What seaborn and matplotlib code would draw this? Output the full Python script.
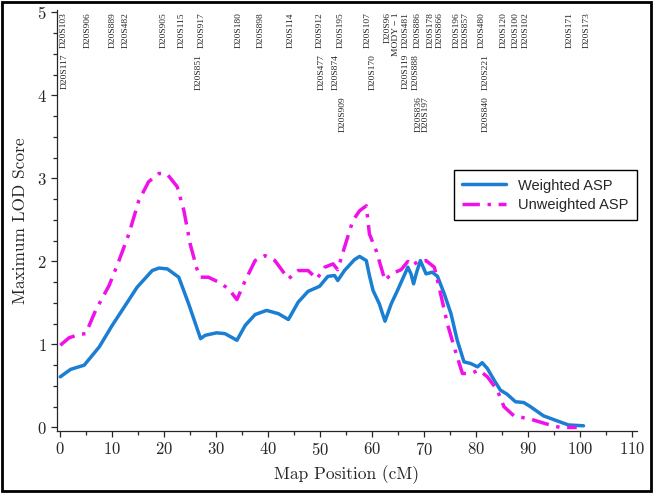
import numpy as np
import pandas as pd
import matplotlib
matplotlib.use("Agg")
import matplotlib.pyplot as plt
from matplotlib.ticker import MultipleLocator
import seaborn as sns

# weighted ASP curve (cM, max LOD)
pos_weighted = [0, 2.0, 4.6, 7.5, 10.0, 12.3, 14.8, 17.7, 19.0, 20.6, 22.8, 24.7,
                27.0, 27.9, 30.1, 31.7, 34.0, 35.6, 37.5, 39.7, 42.0, 43.9, 45.8,
                47.7, 49.9, 51.5, 52.8, 53.4, 54.7, 56.6, 57.6, 58.9, 59.5, 60.2,
                61.4, 62.5, 63.7, 64.9, 66.9, 67.5, 68.0, 68.5, 69.3, 70.4, 71.6,
                72.6, 73.9, 75.2, 76.4, 77.7, 79.0, 80.3, 81.2, 82.2, 83.5, 84.7,
                86.0, 87.6, 89.2, 90.5, 93.0, 95.6, 97.8, 100.7]
lod_weighted = [0.61, 0.70, 0.75, 0.97, 1.23, 1.45, 1.69, 1.89, 1.92, 1.91, 1.81, 1.49,
                1.07, 1.11, 1.14, 1.13, 1.05, 1.23, 1.36, 1.41, 1.37, 1.30, 1.51,
                1.64, 1.70, 1.82, 1.83, 1.77, 1.89, 2.02, 2.06, 2.01, 1.83, 1.65,
                1.49, 1.28, 1.49, 1.65, 1.93, 1.85, 1.73, 1.85, 2.01, 1.85, 1.87,
                1.82, 1.61, 1.37, 1.05, 0.79, 0.77, 0.73, 0.78, 0.71, 0.57, 0.45,
                0.40, 0.31, 0.30, 0.25, 0.14, 0.08, 0.03, 0.02]

# unweighted ASP curve
pos_unweighted = [0, 1.7, 3.6, 4.9, 6.8, 9.4, 11.3, 13.2, 15.1, 17.0, 19.0, 20.6,
                  22.5, 23.8, 25.0, 26.3, 27.0, 28.5, 30.5, 32.4, 34.0, 35.6, 37.5,
                  39.4, 41.3, 43.9, 45.8, 47.7, 49.4, 50.9, 52.5, 53.4, 54.7, 56.3,
                  57.6, 58.9, 59.5, 60.8, 62.5, 63.7, 65.6, 66.9, 67.8, 68.8, 70.4,
                  72.0, 73.2, 74.5, 75.8, 77.4, 79.0, 80.6, 82.2, 84.1, 85.4, 87.3,
                  90.5, 93.7, 96.2, 99.4]
lod_unweighted = [0.99, 1.08, 1.12, 1.13, 1.41, 1.71, 2.01, 2.33, 2.73, 2.96, 3.06, 3.05,
                  2.90, 2.61, 2.21, 1.91, 1.81, 1.81, 1.75, 1.67, 1.54, 1.77, 2.01,
                  2.07, 2.01, 1.79, 1.89, 1.89, 1.79, 1.93, 1.97, 1.90, 2.17, 2.49,
                  2.61, 2.67, 2.33, 2.13, 1.77, 1.85, 1.90, 2.00, 1.95, 2.00, 2.01,
                  1.93, 1.61, 1.25, 0.97, 0.65, 0.65, 0.69, 0.61, 0.45, 0.25, 0.14,
                  0.10, 0.04, 0.00, 0.00]

# marker names along the top (row 0 = top row)
marker_names = ["D20S103", "D20S117", "D20S906", "D20S889", "D20S482", "D20S905",
                "D20S115", "D20S917", "D20S851", "D20S180", "D20S898", "D20S114",
                "D20S912", "D20S477", "D20S195", "D20S874", "D20S909", "D20S107",
                "D20S170", "D20S96\nMODY \u2212 1", "D20S481", "D20S119", "D20S886",
                "D20S888", "D20S836", "D20S197", "D20S178", "D20S866", "D20S196",
                "D20S857", "D20S480", "D20S221", "D20S840", "D20S120", "D20S100",
                "D20S102", "D20S171", "D20S173"]
marker_pos = [0.6, 0.8, 5.2, 10.0, 12.5, 19.9,
              23.4, 27.2, 26.6, 34.3, 38.5, 44.4,
              50.0, 50.4, 54.0, 53.1, 54.4, 59.2,
              60.2, 63.8, 66.5, 66.5, 68.8,
              68.4, 68.9, 70.4, 71.3, 73.0, 76.2,
              78.0, 81.2, 81.8, 81.8, 85.4, 87.7,
              89.5, 98.1, 101.3]
marker_row = [0, 1, 0, 0, 0, 0,
              0, 0, 1, 0, 0, 0,
              0, 1, 0, 1, 2, 0,
              1, 0, 0, 1, 0,
              1, 2, 2, 0, 0, 0,
              0, 0, 1, 2, 0, 0,
              0, 0, 0]
row_top = [5.0, 4.5, 3.99]

df = pd.concat([
    pd.DataFrame({"pos": pos_weighted, "lod": lod_weighted, "curve": "Weighted ASP"}),
    pd.DataFrame({"pos": pos_unweighted, "lod": lod_unweighted, "curve": "Unweighted ASP"}),
])

sns.set_style("ticks")
plt.rcParams["mathtext.fontset"] = "cm"
plt.rcParams["axes.formatter.use_mathtext"] = True

fig = plt.figure(figsize=(6.54, 4.94), dpi=100)
ax = fig.add_axes([0.087, 0.128, 0.887, 0.852])

sns.lineplot(data=df, x="pos", y="lod", hue="curve", style="curve",
             palette={"Weighted ASP": "#1a7fd3", "Unweighted ASP": "#f010e8"},
             dashes={"Weighted ASP": "", "Unweighted ASP": (5, 2.2, 1, 2.2)},
             linewidth=2.5, sort=False, ax=ax)

ax.set_xlim(-0.65, 111)
ax.set_ylim(-0.04, 5.03)
ax.xaxis.set_major_locator(MultipleLocator(10))
ax.xaxis.set_minor_locator(MultipleLocator(5))
ax.yaxis.set_major_locator(MultipleLocator(1))
ax.yaxis.set_minor_locator(MultipleLocator(0.25))
ax.tick_params(which="major", length=4, width=0.9, direction="out", labelsize=12)
ax.tick_params(which="minor", length=3, width=0.9, direction="out")
for lab in ax.get_xticklabels() + ax.get_yticklabels():
    lab.set_fontfamily("cmr10")
sns.despine(ax=ax)
for s in ["left", "bottom"]:
    ax.spines[s].set_linewidth(0.9)

ax.set_xlabel("Map Position (cM)", fontfamily="cmr10", fontsize=12.5, labelpad=5)
ax.set_ylabel("Maximum LOD Score", fontfamily="cmr10", fontsize=12.5, labelpad=6)

for name, x, r in zip(marker_names, marker_pos, marker_row):
    ax.text(x, row_top[r], name, rotation=90, ha="center", va="top",
            multialignment="right", fontsize=6.8, fontfamily="Liberation Serif",
            linespacing=1.0, clip_on=False)

leg = ax.legend(loc="upper right", bbox_to_anchor=(1.0, 0.62), borderaxespad=0,
                title=None, fancybox=False, edgecolor="black", framealpha=1,
                handlelength=3.0, prop={"family": "Liberation Sans", "size": 10.5},
                borderpad=0.6, labelspacing=0.35)
leg.get_frame().set_linewidth(1.0)

fig.patches.append(plt.Rectangle((0.003, 0.006), 0.992, 0.99, transform=fig.transFigure,
                                 fill=False, edgecolor="black", linewidth=2.0))

fig.savefig("out.png", dpi=100)
